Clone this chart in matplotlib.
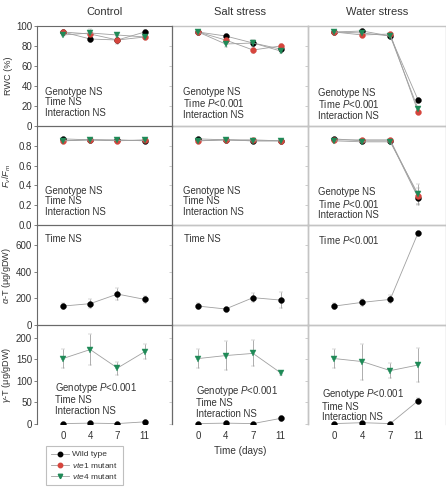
import matplotlib
matplotlib.use('Agg')
import matplotlib.pyplot as plt
from matplotlib.lines import Line2D

plt.rcParams['font.family'] = ['Liberation Sans', 'DejaVu Sans']
plt.rcParams['mathtext.fontset'] = 'custom'
plt.rcParams['mathtext.rm'] = 'Liberation Sans'
plt.rcParams['mathtext.it'] = 'Liberation Sans:italic'

# данные: строки = Control, Salt stress, Water stress
conditions = ['Control', 'Salt stress', 'Water stress']
days = ['0', '4', '7', '11']

rwc_wt = [[94, 87, 86, 94], [94, 90, 83, 77], [94, 95, 90, 26]]
rwc_wt_err = [[1, 3, 2, 2], [1, 2, 3, 2], [1, 2, 1, 2]]
rwc_vte1 = [[94, 92, 86, 89], [94, 86, 76, 80], [94, 91, 92, 14]]
rwc_vte1_err = [[1, 3, 4, 2], [1, 3, 3, 2], [1, 2, 1, 2]]
rwc_vte4 = [[91, 93, 91, 89], [94, 82, 83, 75], [94, 93, 90, 17]]
rwc_vte4_err = [[1, 4, 1, 2], [1, 3, 3, 2], [1, 1, 1, 2]]

fv_wt = [[0.87, 0.86, 0.86, 0.85], [0.87, 0.86, 0.85, 0.85], [0.87, 0.85, 0.85, 0.275]]
fv_wt_err = [[0.01, 0.01, 0.01, 0.01], [0.01, 0.01, 0.01, 0.01], [0.01, 0.01, 0.01, 0.07]]
fv_vte1 = [[0.85, 0.86, 0.85, 0.86], [0.85, 0.86, 0.86, 0.85], [0.86, 0.86, 0.86, 0.29]]
fv_vte1_err = [[0.01, 0.01, 0.01, 0.01], [0.01, 0.01, 0.01, 0.01], [0.01, 0.01, 0.01, 0.08]]
fv_vte4 = [[0.85, 0.86, 0.855, 0.855], [0.85, 0.86, 0.85, 0.85], [0.85, 0.84, 0.84, 0.31]]
fv_vte4_err = [[0.01, 0.01, 0.01, 0.01], [0.01, 0.01, 0.01, 0.01], [0.01, 0.01, 0.01, 0.1]]

at_wt = [[142, 160, 232, 192], [142, 120, 205, 187], [142, 170, 192, 692]]
at_wt_err = [[20, 35, 45, 25], [20, 10, 35, 60], [20, 25, 30, 8]]

gt_wt = [[1, 2, 1, 5], [1, 2, 1, 13], [1, 3, 1, 54]]
gt_wt_err = [[1, 1, 1, 2], [1, 1, 1, 6], [1, 1, 1, 6]]
gt_vte4 = [[152, 173, 130, 168], [152, 159, 164, 119], [152, 145, 124, 137]]
gt_vte4_err = [[22, 37, 15, 17], [22, 33, 30, 5], [22, 42, 18, 40]]

stats_rwc = [['Genotype NS', 'Time NS', 'Interaction NS'],
             ['Genotype NS', 'Time $P$<0.001', 'Interaction NS'],
             ['Genotype NS', 'Time $P$<0.001', 'Interaction NS']]
stats_fv = [['Genotype NS', 'Time NS', 'Interaction NS'],
            ['Genotype NS', 'Time NS', 'Interaction NS'],
            ['Genotype NS', 'Time $P$<0.001', 'Interaction NS']]
stats_at = [['Time NS'], ['Time NS'], ['Time $P$<0.001']]
stats_gt = [['Genotype $P$<0.001', 'Time NS', 'Interaction NS'],
            ['Genotype $P$<0.001', 'Time NS', 'Interaction NS'],
            ['Genotype $P$<0.001', 'Time NS', 'Interaction NS']]

black = '#000000'
red = '#d6453d'
green = '#1f8a57'
linec = '#a0a0a0'
dark = '#6a6a6a'
light = '#c4c4c4'

W, H = 446, 487
fig = plt.figure(figsize=(W / 100, H / 100), dpi=100)

col_left = [37, 172, 308]
col_w = [135, 136, 138]
row_top = [26, 126, 225, 325]
row_h = [100, 99, 100, 99]

rows = [
    dict(series=[(rwc_wt, rwc_wt_err, black, 'o'), (rwc_vte1, rwc_vte1_err, red, 'o'), (rwc_vte4, rwc_vte4_err, green, 'v')],
         ylim=(0, 100), yticks=[0, 20, 40, 60, 80, 100], yfmt='{:g}', ylabel='RWC (%)', stats=stats_rwc,
         tpos=[(0.06, 0.343), (0.083, 0.343), (0.075, 0.333)]),
    dict(series=[(fv_wt, fv_wt_err, black, 'o'), (fv_vte1, fv_vte1_err, red, 'o'), (fv_vte4, fv_vte4_err, green, 'v')],
         ylim=(0, 1.0), yticks=[0.0, 0.2, 0.4, 0.6, 0.8], yfmt='{:.1f}', ylabel='$F_v/F_m$', stats=stats_fv,
         tpos=[(0.06, 0.343), (0.083, 0.343), (0.075, 0.333)]),
    dict(series=[(at_wt, at_wt_err, black, 'o')],
         ylim=(0, 750), yticks=[0, 200, 400, 600], yfmt='{:g}', ylabel=r'$\alpha$-T (μg/gDW)', stats=stats_at,
         tpos=[(0.06, 0.86), (0.09, 0.86), (0.075, 0.86)]),
    dict(series=[(gt_wt, gt_wt_err, black, 'o'), (gt_vte4, gt_vte4_err, green, 'v')],
         ylim=(0, 230), yticks=[0, 50, 100, 150, 200], yfmt='{:g}', ylabel=r'$\gamma$-T (μg/gDW)', stats=stats_gt,
         tpos=[(0.133, 0.384), (0.18, 0.357), (0.10, 0.32)]),
]

for r, row in enumerate(rows):
    for c in [2, 1, 0]:
        ax = fig.add_axes([col_left[c] / W, 1 - (row_top[r] + row_h[r]) / H, col_w[c] / W, row_h[r] / H],
                          facecolor='none')
        ax.set_zorder(3 - c)
        for vals, errs, col, mk in row['series']:
            ax.errorbar(days, vals[c], yerr=errs[c], color=linec, lw=0.6, elinewidth=0.6,
                        capsize=1.2, capthick=0.6, marker=mk, ms=4.2, mfc=col, mec=col, mew=0.3, zorder=3)
        ax.set_xlim(-0.95, 4.0)
        ax.set_ylim(*row['ylim'])
        ax.set_yticks(row['yticks'])
        ax.tick_params(axis='y', direction='out', length=2, width=0.6, color=dark if c == 0 else light,
                       labelsize=7, pad=1.5, labelcolor='#333333')
        if c == 0:
            ax.set_yticklabels([row['yfmt'].format(v) for v in row['yticks']])
            ax.set_ylabel(row['ylabel'], fontsize=6.6, color='#333333')
            ax.yaxis.set_label_coords(-0.175, 0.5)
        else:
            ax.set_yticklabels([])
        if r == 3:
            ax.tick_params(axis='x', length=0, labelsize=7, pad=5, labelcolor='#333333')
        else:
            ax.tick_params(axis='x', length=0, labelbottom=False)
        scol = dark if c == 0 else light
        slw = 0.8 if c == 0 else 1.0
        for s in ['left', 'right', 'top', 'bottom']:
            ax.spines[s].set_color(scol)
            ax.spines[s].set_linewidth(slw)
        if r == 3:
            ax.spines['bottom'].set_visible(False)
        if r == 0:
            ax.set_title(conditions[c], fontsize=8, color='#333333', pad=8)
        tx, ty = row['tpos'][c]
        ax.text(tx, ty + 0.05, '\n'.join(row['stats'][c]), transform=ax.transAxes, fontsize=6.9,
                va='top', ha='left', color='#333333', linespacing=1.05)

fig.text(240 / W, 1 - 451 / H, 'Time (days)', ha='center', va='center', fontsize=7.2, color='#333333')

handles = [Line2D([], [], color=linec, lw=0.6, marker='o', ms=3.2, mfc=black, mec=black),
           Line2D([], [], color=linec, lw=0.6, marker='o', ms=3.2, mfc=red, mec=red),
           Line2D([], [], color=linec, lw=0.6, marker='v', ms=3.2, mfc=green, mec=green)]
labels = ['Wild type', '$vte1$ mutant', '$vte4$ mutant']
leg = fig.legend(handles, labels, loc='upper left', bbox_to_anchor=(46 / W, 1 - 446 / H),
                 fontsize=6, frameon=True, fancybox=False, borderpad=0.55, handlelength=2.2,
                 handletextpad=0.4, labelspacing=0.25, borderaxespad=0)
leg.get_frame().set_edgecolor('#b0b0b0')
leg.get_frame().set_linewidth(0.8)
for t in leg.get_texts():
    t.set_color('#333333')

fig.savefig('out.png', dpi=100)
